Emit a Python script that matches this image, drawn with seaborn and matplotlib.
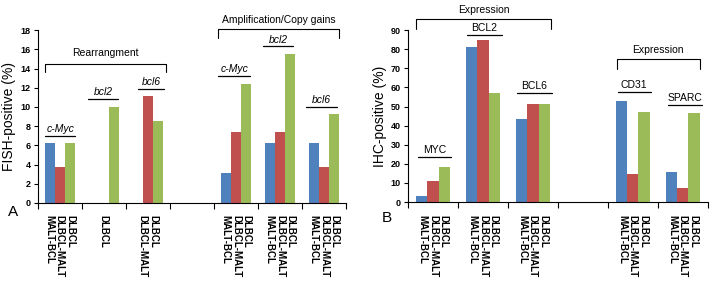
import pandas as pd
import matplotlib
matplotlib.use('Agg')
import matplotlib.pyplot as plt
import seaborn as sns

subtypes = ['MALT-BCL', 'DLBCL-MALT', 'DLBCL']
colors = ['#4F81BD', '#C0504D', '#9BBB59']

# Panel A: FISH
fish_groups = ['c-Myc R', 'bcl2 R', 'bcl6 R', 'gap', 'c-Myc A', 'bcl2 A', 'bcl6 A']
fish_malt_bcl = [6.2, 0, 0, 0, 3.1, 6.2, 6.2]
fish_dlbcl_malt = [3.7, 0, 11.1, 0, 7.4, 7.4, 3.7]
fish_dlbcl = [6.2, 10.0, 8.5, 0, 12.4, 15.5, 9.3]
fish_shown = [subtypes, ['DLBCL'], ['DLBCL-MALT', 'DLBCL'], [],
              subtypes, subtypes, subtypes]

# Panel B: IHC
ihc_groups = ['MYC', 'BCL2', 'BCL6', 'gap', 'CD31', 'SPARC']
ihc_malt_bcl = [3, 81, 43.5, 0, 53, 15.5]
ihc_dlbcl_malt = [11, 85, 51.5, 0, 14.5, 7.5]
ihc_dlbcl = [18.5, 57, 51.5, 0, 47, 46.5]
ihc_shown = [subtypes, subtypes, subtypes, [], subtypes, subtypes]

sns.set_style('ticks', {'axes.edgecolor': 'black', 'text.color': 'black',
                        'axes.labelcolor': 'black', 'xtick.color': 'black',
                        'ytick.color': 'black'})
plt.rcParams['font.family'] = ['Liberation Sans', 'DejaVu Sans']


def long_df(groups, a, b, c):
    rows = []
    for g, va, vb, vc in zip(groups, a, b, c):
        for s, v in zip(subtypes, (va, vb, vc)):
            rows.append({'group': g, 'type': s, 'value': v})
    return pd.DataFrame(rows)


def draw_panel(ax, df, groups, shown, ymax, ystep, ylabel):
    sns.barplot(data=df, x='group', y='value', hue='type', order=groups,
                hue_order=subtypes, palette=colors, saturation=1, width=0.68,
                gap=0, linewidth=0, legend=False, errorbar=None, ax=ax)
    n = len(groups)
    ax.set_xlim(-0.5, n - 0.5)
    ax.set_ylim(0, ymax)
    ax.set_yticks(range(0, ymax + 1, ystep))
    ax.tick_params(axis='y', labelsize=6.5, length=3, width=0.8, pad=2)
    for t in ax.get_yticklabels():
        t.set_fontweight('bold')
    # ticks at group boundaries, labels at group centres
    ax.set_xticks([i - 0.5 for i in range(n + 1)])
    ax.set_xticklabels([])
    ax.set_xticks(range(n), minor=True)
    labels = ['\n'.join(reversed(s)) for s in shown]
    ax.set_xticklabels(labels, minor=True, rotation=270, ha='center', va='top',
                       multialignment='left', fontsize=7, fontweight='bold',
                       linespacing=1.05)
    ax.tick_params(axis='x', which='major', length=4, width=0.8)
    ax.tick_params(axis='x', which='minor', length=0, pad=9)
    ax.set_xlabel('')
    ax.set_ylabel(ylabel, fontsize=10, labelpad=3)
    sns.despine(ax=ax)


def mark(ax, x0, x1, y, text, ty, style='normal'):
    ax.plot([x0, x1], [y, y], color='black', lw=0.9, clip_on=False)
    ax.text((x0 + x1) / 2, ty, text, ha='center', va='bottom', fontsize=7.5,
            style=style, clip_on=False)


def bracket(ax, x0, x1, y, drop, text, ty):
    ax.plot([x0, x0, x1, x1], [y - drop, y, y, y - drop], color='black',
            lw=0.8, clip_on=False)
    ax.text((x0 + x1) / 2, ty, text, ha='center', va='bottom', fontsize=7.5,
            clip_on=False)


fig = plt.figure(figsize=(7.12, 2.87), dpi=100)
ax1 = fig.add_axes([0.053, 0.293, 0.433, 0.602])
ax2 = fig.add_axes([0.573, 0.296, 0.421, 0.599])

draw_panel(ax1, long_df(fish_groups, fish_malt_bcl, fish_dlbcl_malt, fish_dlbcl),
           fish_groups, fish_shown, 18, 2, 'FISH-positive (%)')
draw_panel(ax2, long_df(ihc_groups, ihc_malt_bcl, ihc_dlbcl_malt, ihc_dlbcl),
           ihc_groups, ihc_shown, 90, 10, 'IHC-positive (%)')

# annotations, panel A
mark(ax1, -0.33, 0.35, 7.0, 'c-Myc', 7.2, 'italic')
mark(ax1, 0.64, 1.32, 10.8, 'bcl2', 11.0, 'italic')
mark(ax1, 1.78, 2.36, 11.9, 'bcl6', 12.1, 'italic')
bracket(ax1, -0.33, 2.42, 14.5, 0.9, 'Rearrangment', 15.1)
mark(ax1, 3.6, 4.33, 13.2, 'c-Myc', 13.4, 'italic')
mark(ax1, 4.62, 5.3, 16.3, 'bcl2', 16.5, 'italic')
mark(ax1, 5.6, 6.3, 10.0, 'bcl6', 10.2, 'italic')
bracket(ax1, 3.6, 6.33, 18.1, 0.9, 'Amplification/Copy gains', 18.5)

# annotations, panel B
mark(ax2, -0.3, 0.36, 23.5, 'MYC', 24.8)
mark(ax2, 0.68, 1.38, 87.4, 'BCL2', 88.7)
mark(ax2, 1.68, 2.38, 57.0, 'BCL6', 58.3)
bracket(ax2, -0.34, 2.36, 95.8, 5.2, 'Expression', 98.0)
mark(ax2, 3.7, 4.36, 57.6, 'CD31', 58.9)
mark(ax2, 4.7, 5.38, 50.8, 'SPARC', 52.1)
bracket(ax2, 3.68, 5.34, 74.8, 5.2, 'Expression', 77.0)

fig.text(0.018, 0.26, 'A', fontsize=11, ha='center', va='center')
fig.text(0.543, 0.24, 'B', fontsize=11, ha='center', va='center')

fig.savefig('out.png', dpi=100)
